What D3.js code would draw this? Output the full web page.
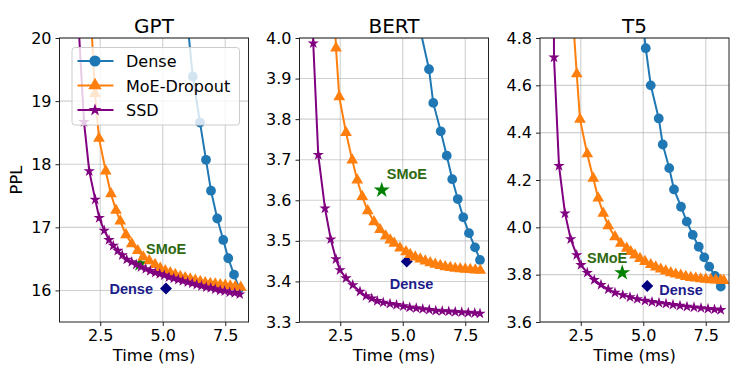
<style>
  body { margin: 0; background: #fff; }
  svg text { font-family: 'DejaVu Sans', sans-serif; fill: #000; }
  .anno { font-family: 'Liberation Sans', Arial, sans-serif !important; font-weight: bold; font-size: 14.5px; }
</style>

<div class="chartContainer"></div>

<script src="https://d3js.org/d3.v7.min.js"></script>
<script>
    // data
    const categories = ['GPT', 'BERT', 'T5'];
    const seriesNames = ['Dense', 'MoE-Dropout', 'SSD'];
    const xTicks = [2.5, 5.0, 7.5];
    const gptTicks = [16, 17, 18, 19, 20];
    const bertTicks = [3.3, 3.4, 3.5, 3.6, 3.7, 3.8, 3.9, 4.0];
    const t5Ticks = [3.6, 3.8, 4.0, 4.2, 4.4, 4.6, 4.8];

    const gptDenseX = [5.95, 6.20, 6.49, 6.73, 6.93, 7.18, 7.42, 7.62, 7.85, 8.06];
    const gptDenseY = [20.4, 19.39, 18.66, 18.07, 17.58, 17.14, 16.80, 16.51, 16.25, 16.03];
    const gptMoeX = [2.12, 2.29, 2.45, 2.72, 2.93, 3.13, 3.30, 3.53, 3.76, 4.00, 4.22, 4.46, 4.69, 4.90, 5.10, 5.30, 5.50, 5.70, 5.90, 6.10, 6.30, 6.50, 6.70, 6.90, 7.10, 7.30, 7.50, 7.70, 7.90, 8.12];
    const gptMoeY = [20.4, 19.12, 18.41, 17.89, 17.53, 17.27, 17.10, 16.88, 16.74, 16.63, 16.53, 16.47, 16.41, 16.35, 16.31, 16.28, 16.25, 16.22, 16.20, 16.18, 16.16, 16.14, 16.12, 16.11, 16.10, 16.09, 16.08, 16.07, 16.06, 16.05];
    const gptSsdX = [1.62, 1.85, 2.06, 2.30, 2.46, 2.66, 2.85, 3.02, 3.20, 3.38, 3.56, 3.76, 3.94, 4.13, 4.32, 4.50, 4.70, 4.88, 5.06, 5.25, 5.44, 5.62, 5.80, 6.00, 6.18, 6.36, 6.55, 6.74, 6.92, 7.10, 7.30, 7.48, 7.68, 7.88, 8.08];
    const gptSsdY = [20.3, 18.67, 17.89, 17.44, 17.15, 16.95, 16.80, 16.71, 16.63, 16.56, 16.49, 16.45, 16.41, 16.37, 16.34, 16.31, 16.28, 16.26, 16.24, 16.21, 16.19, 16.17, 16.15, 16.13, 16.11, 16.09, 16.07, 16.05, 16.04, 16.02, 16.00, 15.99, 15.97, 15.96, 15.94];

    const bertDenseX = [5.70, 6.05, 6.22, 6.52, 6.76, 6.98, 7.20, 7.42, 7.65, 7.89, 8.09];
    const bertDenseY = [4.02, 3.923, 3.84, 3.77, 3.71, 3.652, 3.603, 3.558, 3.519, 3.484, 3.453];
    const bertMoeX = [2.25, 2.33, 2.46, 2.73, 2.98, 3.18, 3.38, 3.60, 3.85, 4.09, 4.32, 4.50, 4.66, 4.89, 5.13, 5.30, 5.50, 5.70, 5.90, 6.10, 6.30, 6.50, 6.70, 6.90, 7.10, 7.30, 7.50, 7.70, 7.90, 8.10];
    const bertMoeY = [4.10, 3.975, 3.855, 3.767, 3.699, 3.650, 3.609, 3.574, 3.547, 3.528, 3.512, 3.502, 3.494, 3.482, 3.473, 3.466, 3.460, 3.455, 3.450, 3.446, 3.442, 3.439, 3.436, 3.434, 3.432, 3.431, 3.430, 3.429, 3.428, 3.427];
    const bertSsdX = [1.40, 1.42, 1.62, 1.89, 2.12, 2.33, 2.49, 2.73, 3.00, 3.29, 3.53, 3.76, 3.98, 4.22, 4.49, 4.75, 5.02, 5.28, 5.54, 5.80, 6.06, 6.32, 6.58, 6.84, 7.10, 7.36, 7.62, 7.88, 8.09];
    const bertSsdY = [4.60, 3.987, 3.712, 3.580, 3.504, 3.455, 3.428, 3.408, 3.391, 3.375, 3.364, 3.358, 3.352, 3.348, 3.345, 3.342, 3.339, 3.336, 3.334, 3.332, 3.330, 3.328, 3.327, 3.326, 3.325, 3.324, 3.323, 3.322, 3.321];

    const t5DenseX = [4.98, 5.10, 5.30, 5.62, 5.78, 6.04, 6.23, 6.51, 6.74, 6.98, 7.22, 7.44, 7.64, 7.87, 8.10];
    const t5DenseY = [4.87, 4.757, 4.60, 4.46, 4.35, 4.25, 4.16, 4.087, 4.024, 3.968, 3.918, 3.873, 3.834, 3.795, 3.750];
    const t5MoeX = [2.18, 2.34, 2.47, 2.76, 3.00, 3.20, 3.40, 3.60, 3.87, 4.10, 4.34, 4.50, 4.67, 4.87, 5.07, 5.30, 5.50, 5.70, 5.90, 6.10, 6.30, 6.50, 6.70, 6.90, 7.10, 7.30, 7.50, 7.70, 7.90, 8.10, 8.22];
    const t5MoeY = [4.90, 4.648, 4.456, 4.310, 4.207, 4.123, 4.059, 4.006, 3.960, 3.932, 3.911, 3.897, 3.883, 3.868, 3.855, 3.842, 3.832, 3.823, 3.815, 3.808, 3.802, 3.797, 3.792, 3.788, 3.785, 3.782, 3.780, 3.778, 3.777, 3.776, 3.775];
    const t5SsdX = [1.41, 1.43, 1.63, 1.87, 2.10, 2.34, 2.51, 2.76, 3.04, 3.31, 3.60, 3.87, 4.18, 4.47, 4.76, 5.07, 5.35, 5.63, 5.91, 6.19, 6.47, 6.75, 7.03, 7.31, 7.59, 7.85, 8.10];
    const t5SsdY = [5.30, 4.718, 4.260, 4.059, 3.950, 3.883, 3.841, 3.808, 3.778, 3.757, 3.738, 3.724, 3.714, 3.705, 3.697, 3.690, 3.685, 3.681, 3.677, 3.673, 3.669, 3.665, 3.662, 3.659, 3.656, 3.653, 3.651];

    // single reference points: [x, y] per panel
    const smoePoints = [[4.09, 16.42], [4.16, 3.625], [4.16, 3.808]];
    const densePoints = [[5.13, 16.03], [5.16, 3.449], [5.16, 3.752]];

    const W = 747, H = 374;
    const yTop = 38, yBottom = 322, pw = 189;
    const lefts = [59.5, 299.5, 540];
    const colors = ['#1f77b4', '#ff7f0e', '#800080'];
    const symbols = [d3.symbolCircle, d3.symbolTriangle, d3.symbolStar];
    const symSizes = [75, 60, 40];

    const panels = [
      {yDomain: [15.5, 20], ticks: gptTicks, fmt: d3.format('d'),
       series: [[gptDenseX, gptDenseY], [gptMoeX, gptMoeY], [gptSsdX, gptSsdY]],
       smoeText: [6, -10, 'start'], denseText: [-13, 5, 'end']},
      {yDomain: [3.3, 4.0], ticks: bertTicks, fmt: d3.format('.1f'),
       series: [[bertDenseX, bertDenseY], [bertMoeX, bertMoeY], [bertSsdX, bertSsdY]],
       smoeText: [5, -11, 'start'], denseText: [-17, 27, 'start']},
      {yDomain: [3.6, 4.8], ticks: t5Ticks, fmt: d3.format('.1f'),
       series: [[t5DenseX, t5DenseY], [t5MoeX, t5MoeY], [t5SsdX, t5SsdY]],
       smoeText: [5, -10, 'end'], denseText: [12, 9, 'start']}
    ];

    const svg = d3.select('.chartContainer')
                  .append('svg')
                  .attr('width', W)
                  .attr('height', H);

    panels.forEach((p, i) => {
      const x = d3.scaleLinear().domain([0.87, 8.43]).range([lefts[i], lefts[i] + pw]);
      const y = d3.scaleLinear().domain(p.yDomain).range([yBottom, yTop]);
      const g = svg.append('g');

      g.append('clipPath').attr('id', 'clip' + i)
        .append('rect').attr('x', lefts[i]).attr('y', yTop).attr('width', pw).attr('height', yBottom - yTop);

      // grid
      g.append('g').selectAll('line').data(xTicks).enter().append('line')
        .attr('x1', d => x(d)).attr('x2', d => x(d)).attr('y1', yTop).attr('y2', yBottom)
        .style('stroke', '#b0b0b0').style('stroke-opacity', 0.6).style('stroke-width', 1.1);
      g.append('g').selectAll('line').data(p.ticks).enter().append('line')
        .attr('x1', lefts[i]).attr('x2', lefts[i] + pw).attr('y1', d => y(d)).attr('y2', d => y(d))
        .style('stroke', '#b0b0b0').style('stroke-opacity', 0.6).style('stroke-width', 1.1);

      // axes
      const xa = g.append('g').attr('transform', `translate(0,${yBottom})`)
        .call(d3.axisBottom(x).tickValues(xTicks).tickFormat(d3.format('.1f')).tickSizeOuter(0).tickSize(4).tickPadding(4));
      const ya = g.append('g').attr('transform', `translate(${lefts[i]},0)`)
        .call(d3.axisLeft(y).tickValues(p.ticks).tickFormat(p.fmt).tickSizeOuter(0).tickSize(4).tickPadding(4));
      [xa, ya].forEach(a => {
        a.select('.domain').remove();
        a.selectAll('text').style('font-size', '16px').style('font-family', 'DejaVu Sans');
        a.selectAll('line').style('stroke', '#222');
      });

      const plot = g.append('g').attr('clip-path', `url(#clip${i})`);

      // SMoE / Dense single points (under the curves)
      plot.append('path')
        .attr('d', d3.symbol().type(d3.symbolStar).size(80)())
        .attr('transform', `translate(${x(smoePoints[i][0])},${y(smoePoints[i][1])})`)
        .style('fill', '#008000');
      plot.append('path')
        .attr('d', d3.symbol().type(d3.symbolSquare).size(72)())
        .attr('transform', `translate(${x(densePoints[i][0])},${y(densePoints[i][1])}) rotate(45)`)
        .style('fill', '#000080');

      p.series.forEach((s, k) => {
        const pts = s[0].map((v, j) => [v, s[1][j]]);
        plot.append('path').datum(pts)
          .attr('d', d3.line().x(d => x(d[0])).y(d => y(d[1])))
          .style('fill', 'none').style('stroke', colors[k]).style('stroke-width', 2);
        plot.append('g').selectAll('path').data(pts).enter().append('path')
          .attr('d', d3.symbol().type(symbols[k]).size(symSizes[k])())
          .attr('transform', d => `translate(${x(d[0])},${y(d[1])})`)
          .style('fill', colors[k]);
      });

      // annotations
      g.append('text').attr('class', 'anno')
        .attr('x', x(smoePoints[i][0]) + p.smoeText[0]).attr('y', y(smoePoints[i][1]) + p.smoeText[1])
        .attr('text-anchor', p.smoeText[2]).style('fill', '#2f6a12').text('SMoE');
      g.append('text').attr('class', 'anno')
        .attr('x', x(densePoints[i][0]) + p.denseText[0]).attr('y', y(densePoints[i][1]) + p.denseText[1])
        .attr('text-anchor', p.denseText[2]).style('fill', '#1c1c8c').text('Dense');

      // frame
      g.append('rect').attr('x', lefts[i]).attr('y', yTop).attr('width', pw).attr('height', yBottom - yTop)
        .style('fill', 'none').style('stroke', '#222').style('stroke-width', 1);

      g.append('text').attr('x', lefts[i] + pw / 2).attr('y', 33).attr('text-anchor', 'middle')
        .style('font-size', '20px').text(categories[i]);
      g.append('text').attr('x', lefts[i] + pw / 2).attr('y', 361).attr('text-anchor', 'middle')
        .style('font-size', '16.4px').text('Time (ms)');
    });

    svg.append('text').attr('transform', `translate(22,${(yTop + yBottom) / 2}) rotate(-90)`)
      .attr('text-anchor', 'middle').style('font-size', '16.4px').text('PPL');

    // legend
    const lg = svg.append('g');
    lg.append('rect').attr('x', 72).attr('y', 47.5).attr('width', 167.5).attr('height', 77.5).attr('rx', 3)
      .style('fill', '#fff').style('fill-opacity', 0.8).style('stroke', '#ccc');
    seriesNames.forEach((n, k) => {
      const yy = 61 + k * 24.5;
      lg.append('line').attr('x1', 77.5).attr('x2', 113.5).attr('y1', yy).attr('y2', yy)
        .style('stroke', colors[k]).style('stroke-width', 2);
      lg.append('path').attr('d', d3.symbol().type(symbols[k]).size(symSizes[k] * 1.3)())
        .attr('transform', `translate(95,${yy})`).style('fill', colors[k]);
      lg.append('text').attr('x', 126).attr('y', yy + 6).style('font-size', '16px').text(n);
    });
</script>
